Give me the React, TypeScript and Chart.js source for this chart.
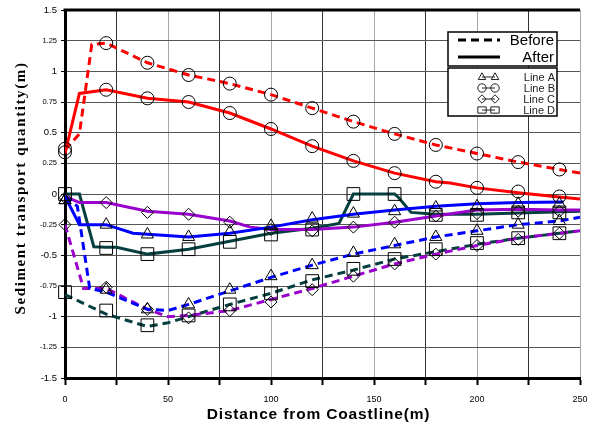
import React, { useEffect, useRef } from "react";
import { Chart, registerables } from "chart.js";

Chart.register(...registerables);

// Marker positions (m)
const MARK_X = [0, 20, 40, 60, 80, 100, 120, 140, 160, 180, 200, 220, 240];

// Marker values (m)
const A_BEFORE_MK = [-0.05, -0.78, -0.94, -0.9, -0.78, -0.67, -0.58, -0.48, -0.41, -0.35, -0.3, -0.25, -0.22];
const A_AFTER_MK = [-0.05, -0.25, -0.33, -0.35, -0.31, -0.26, -0.2, -0.16, -0.14, -0.11, -0.1, -0.08, -0.08];
const B_BEFORE_MK = [0.37, 1.23, 1.07, 0.97, 0.9, 0.81, 0.7, 0.59, 0.49, 0.4, 0.33, 0.26, 0.2];
const B_AFTER_MK = [0.34, 0.85, 0.78, 0.75, 0.66, 0.53, 0.39, 0.27, 0.17, 0.1, 0.05, 0.02, -0.02];
const C_BEFORE_MK = [-0.25, -0.76, -0.94, -1.01, -0.95, -0.88, -0.78, -0.67, -0.57, -0.49, -0.42, -0.37, -0.32];
const C_AFTER_MK = [-0.03, -0.07, -0.15, -0.165, -0.23, -0.29, -0.3, -0.27, -0.23, -0.18, -0.16, -0.14, -0.14];
const D_BEFORE_MK = [-0.8, -0.95, -1.07, -0.99, -0.9, -0.81, -0.71, -0.61, -0.53, -0.45, -0.4, -0.36, -0.32];
const D_AFTER_MK = [0.0, -0.44, -0.49, -0.45, -0.39, -0.33, -0.29, 0.0, 0.0, -0.17, -0.17, -0.15, -0.15];

// Line vertices
const A_BEFORE_X = [0, 6, 12, 20, 40, 50, 60, 80, 100, 120, 140, 160, 180, 200, 220, 240, 250];
const A_BEFORE_Y = [-0.02, -0.1, -0.77, -0.8, -0.94, -0.95, -0.9, -0.79, -0.68, -0.58, -0.49, -0.42, -0.35, -0.3, -0.25, -0.22, -0.19];
const A_AFTER_X = [0, 7, 20, 33, 60, 80, 100, 120, 140, 160, 180, 200, 220, 242];
const A_AFTER_Y = [-0.02, -0.25, -0.25, -0.32, -0.35, -0.32, -0.27, -0.21, -0.165, -0.13, -0.1, -0.08, -0.07, -0.065];
const B_BEFORE_X = [0, 7, 13, 20, 40, 60, 80, 100, 120, 140, 160, 180, 200, 220, 240, 250];
const B_BEFORE_Y = [0.36, 0.49, 1.22, 1.23, 1.07, 0.97, 0.9, 0.81, 0.7, 0.59, 0.49, 0.4, 0.33, 0.26, 0.2, 0.17];
const B_AFTER_X = [0, 7, 20, 40, 60, 80, 100, 120, 140, 160, 180, 187, 200, 220, 240, 250];
const B_AFTER_Y = [0.33, 0.82, 0.85, 0.78, 0.75, 0.66, 0.53, 0.39, 0.27, 0.17, 0.1, 0.09, 0.05, 0.01, -0.025, -0.04];
const C_BEFORE_X = [0, 9, 20, 40, 50, 60, 80, 100, 120, 140, 160, 180, 200, 220, 240, 250];
const C_BEFORE_Y = [-0.25, -0.77, -0.77, -0.94, -1.0, -0.99, -0.95, -0.86, -0.77, -0.67, -0.57, -0.49, -0.42, -0.36, -0.32, -0.3];
const C_AFTER_X = [0, 7, 20, 40, 60, 80, 90, 100, 120, 140, 160, 180, 200, 220, 240, 250];
const C_AFTER_Y = [-0.02, -0.07, -0.07, -0.14, -0.165, -0.22, -0.27, -0.29, -0.29, -0.27, -0.23, -0.18, -0.13, -0.125, -0.13, -0.13];
const D_BEFORE_X = [0, 20, 40, 50, 60, 80, 100, 120, 140, 160, 180, 200, 220, 240, 250];
const D_BEFORE_Y = [-0.82, -0.98, -1.08, -1.05, -1.0, -0.9, -0.81, -0.7, -0.62, -0.53, -0.47, -0.41, -0.36, -0.32, -0.3];
const D_AFTER_X = [0, 7, 14, 20, 25, 40, 60, 80, 100, 120, 133, 140, 160, 162, 168, 180, 200, 220, 250];
const D_AFTER_Y = [0, 0, -0.43, -0.435, -0.435, -0.49, -0.45, -0.385, -0.32, -0.28, -0.24, 0, 0, -0.03, -0.15, -0.165, -0.165, -0.155, -0.14];

const X_TITLE = "Distance from Coastline(m)";
const Y_TITLE = "Sediment transport quantity(m)";
const LEGEND_LINES = ["Before", "After"];
const LEGEND_MARKS = ["Line A", "Line B", "Line C", "Line D"];

const RED = "#ff0000";
const BLUE = "#0000ff";
const PURPLE = "#9a00cc";
const TEAL = "#063f3f";
const DASH = [8, 5];
const SANS = "'Liberation Sans', Arial, sans-serif";
const SERIF = "'Liberation Serif', 'Times New Roman', serif";

const pts = (xs: number[], ys: number[]) => xs.map((x, i) => ({ x, y: ys[i] }));

function lineDs(xs: number[], ys: number[], color: string, dashed: boolean) {
  return {
    data: pts(xs, ys),
    borderColor: color,
    borderWidth: 3,
    borderDash: dashed ? DASH : [],
    pointRadius: 0,
    tension: 0,
    fill: false,
    order: 2,
  };
}

function markDs(ys: number[], style: string, radius: number) {
  return {
    data: pts(MARK_X, ys),
    showLine: false,
    pointStyle: style,
    pointRadius: radius,
    pointBorderColor: "#000",
    pointBackgroundColor: "rgba(0,0,0,0)",
    pointBorderWidth: 1,
    clip: false,
    order: 0,
  };
}

function drawMarker(ctx: CanvasRenderingContext2D, kind: number, x: number, y: number, r: number) {
  ctx.beginPath();
  if (kind === 0) {
    ctx.moveTo(x, y - r);
    ctx.lineTo(x + r * 0.9, y + r * 0.6);
    ctx.lineTo(x - r * 0.9, y + r * 0.6);
    ctx.closePath();
  } else if (kind === 1) {
    ctx.arc(x, y, r, 0, Math.PI * 2);
  } else if (kind === 2) {
    ctx.moveTo(x, y - r);
    ctx.lineTo(x + r, y);
    ctx.lineTo(x, y + r);
    ctx.lineTo(x - r, y);
    ctx.closePath();
  } else {
    ctx.rect(x - r, y - r * 0.75, 2 * r, 1.5 * r);
  }
  ctx.stroke();
}

const framePlugin = {
  id: "frame",
  afterDraw(chart: any) {
    const ctx = chart.ctx as CanvasRenderingContext2D;
    const a = chart.chartArea;
    ctx.save();
    ctx.strokeStyle = "#000";
    ctx.lineWidth = 3;
    ctx.beginPath();
    ctx.moveTo(a.left - 1.5, a.top);
    ctx.lineTo(a.right, a.top);
    ctx.stroke();

    // Axis titles
    ctx.fillStyle = "#000";
    (ctx as any).letterSpacing = "0.85px";
    ctx.font = `bold 15.5px ${SANS}`;
    ctx.textAlign = "center";
    ctx.textBaseline = "alphabetic";
    ctx.fillText(X_TITLE, (a.left + a.right) / 2 - 4, 419);

    ctx.save();
    (ctx as any).letterSpacing = "1.6px";
    ctx.font = `bold 15px ${SERIF}`;
    ctx.translate(25, (a.top + a.bottom) / 2 - 6);
    ctx.rotate(-Math.PI / 2);
    ctx.fillText(Y_TITLE, 0, 0);
    ctx.restore();
    (ctx as any).letterSpacing = "0px";

    // Legend boxes
    const bx = 448, bw = 109;
    ctx.lineWidth = 1.5;
    ctx.fillStyle = "#fff";
    ctx.fillRect(bx, 32, bw, 34);
    ctx.strokeRect(bx, 32, bw, 34);
    ctx.fillRect(bx, 68, bw, 48);
    ctx.strokeRect(bx, 68, bw, 48);

    const rowsA = [40, 57];
    ctx.font = `15px ${SANS}`;
    ctx.textAlign = "right";
    ctx.textBaseline = "middle";
    LEGEND_LINES.forEach((t, i) => {
      ctx.strokeStyle = "#000";
      ctx.lineWidth = 3;
      ctx.setLineDash(i === 0 ? DASH : []);
      ctx.beginPath();
      ctx.moveTo(458, rowsA[i]);
      ctx.lineTo(500, rowsA[i]);
      ctx.stroke();
      ctx.setLineDash([]);
      ctx.fillStyle = "#000";
      ctx.fillText(t, 554, rowsA[i] + 1);
    });

    const rowsB = [77, 88, 99, 110];
    ctx.font = `11px ${SANS}`;
    LEGEND_MARKS.forEach((t, i) => {
      const y = rowsB[i];
      ctx.strokeStyle = "#222";
      ctx.lineWidth = 1;
      ctx.beginPath();
      ctx.moveTo(482, y);
      ctx.lineTo(495, y);
      ctx.stroke();
      ctx.fillStyle = "#fff";
      drawMarker(ctx, i, 482, y, 4.2);
      drawMarker(ctx, i, 495, y, 4.2);
      ctx.fillStyle = "#222";
      ctx.fillText(t, 555, y + 1);
    });
    ctx.restore();
  },
};

export default function App() {
  const ref = useRef<HTMLCanvasElement>(null);

  useEffect(() => {
    if (!ref.current) return;
    const chart = new Chart(ref.current, {
      type: "line",
      data: {
        datasets: [
          markDs(A_BEFORE_MK, "triangle", 7),
          markDs(A_AFTER_MK, "triangle", 7),
          markDs(B_BEFORE_MK, "circle", 6.5),
          markDs(B_AFTER_MK, "circle", 6.5),
          markDs(C_BEFORE_MK, "rectRot", 6),
          markDs(C_AFTER_MK, "rectRot", 6),
          markDs(D_BEFORE_MK, "rect", 9),
          markDs(D_AFTER_MK, "rect", 9),
          lineDs(B_BEFORE_X, B_BEFORE_Y, RED, true),
          lineDs(B_AFTER_X, B_AFTER_Y, RED, false),
          lineDs(A_BEFORE_X, A_BEFORE_Y, BLUE, true),
          lineDs(A_AFTER_X, A_AFTER_Y, BLUE, false),
          lineDs(C_BEFORE_X, C_BEFORE_Y, PURPLE, true),
          lineDs(C_AFTER_X, C_AFTER_Y, PURPLE, false),
          lineDs(D_BEFORE_X, D_BEFORE_Y, TEAL, true),
          lineDs(D_AFTER_X, D_AFTER_Y, TEAL, false),
        ] as any,
      },
      options: {
        animation: false,
        responsive: false,
        layout: { padding: { left: 0, right: 11, top: 10, bottom: 0 } },
        plugins: { legend: { display: false }, tooltip: { enabled: false } },
        scales: {
          x: {
            type: "linear",
            min: 0,
            max: 250,
            afterFit: (s: any) => {
              s.height = 49;
              s.paddingLeft = 0;
              s.paddingRight = 0;
            },
            border: { display: true, color: "#000", width: 3 },
            grid: {
              color: (c: any) => (c.tick && c.tick.value % 50 === 0 ? "#a8a8a8" : "#333"),
              lineWidth: 1,
              tickColor: "#000",
              tickWidth: 2,
              tickLength: 7,
            },
            ticks: {
              stepSize: 25,
              autoSkip: false,
              maxRotation: 0,
              color: "#000",
              padding: 9,
              font: { family: SANS, size: 9 },
              callback: (v: any) => (Number(v) % 50 === 0 ? String(v) : ""),
            },
            title: { display: false },
          },
          y: {
            type: "linear",
            min: -1.5,
            max: 1.5,
            afterFit: (s: any) => {
              s.width = 65;
              s.paddingTop = 0;
              s.paddingBottom = 0;
            },
            border: { display: true, color: "#000", width: 3 },
            grid: {
              color: "#555",
              lineWidth: 1,
              tickColor: "#000",
              tickLength: 4,
            },
            ticks: {
              stepSize: 0.25,
              autoSkip: false,
              color: "#000",
              padding: 4,
              font: (c: any) => ({
                family: SANS,
                size: c.tick && Math.abs((c.tick.value * 2) % 1) < 1e-6 ? 9.5 : 7.5,
              }),
              callback: (v: any) => String(Math.round(Number(v) * 100) / 100),
            },
            title: { display: false },
          },
        },
      } as any,
      plugins: [framePlugin],
    });
    return () => chart.destroy();
  }, []);

  return (
    <div style={{ position: "absolute", left: 0, top: 0, width: 591, height: 427, background: "#fff" }}>
      <canvas ref={ref} width={591} height={427} />
    </div>
  );
}
